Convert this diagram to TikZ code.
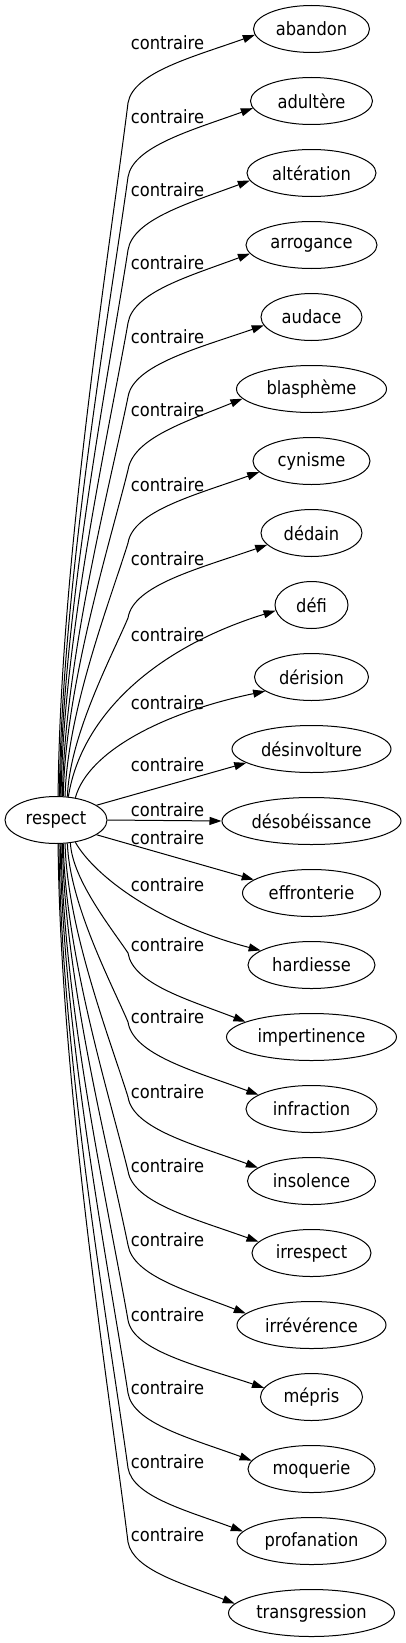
\documentclass[tikz,border=0pt]{standalone}
\usepackage{fontspec}
\setmainfont{DejaVu Sans}[FakeStretch=0.89]
\usetikzlibrary{shapes.geometric,arrows.meta}
\tikzset{
  word/.style={draw=black, line width=1pt, ellipse, inner sep=0pt, minimum height=47pt, text=black},
  rel/.style={text=black, inner sep=0pt},
  edge/.style={draw=black, line width=1pt, -{Triangle[length=12pt,width=8pt]}},
}
\begin{document}
\begin{tikzpicture}[x=1pt, y=-1pt, font=\fontsize{18.3pt}{20pt}\selectfont]
\useasboundingbox (0,0) rectangle (406,1643);
% central node
\node[word, minimum width=102pt] (respect) at (56,820) {respect};
% targets
\node[word, minimum width=116pt] (n0) at (311.5,29) {abandon};
\node[word, minimum width=122pt] (n1) at (311.5,101) {adultère};
\node[word, minimum width=129pt] (n2) at (311.5,173) {altération};
\node[word, minimum width=131pt] (n3) at (311.5,245) {arrogance};
\node[word, minimum width=101pt] (n4) at (311.5,317) {audace};
\node[word, minimum width=150pt] (n5) at (311.5,389) {blasphème};
\node[word, minimum width=117pt] (n6) at (311.5,461) {cynisme};
\node[word, minimum width=101pt] (n7) at (311.5,533) {dédain};
\node[word, minimum width=73pt] (n8) at (311.5,605) {défi};
\node[word, minimum width=114pt] (n9) at (311.5,677) {dérision};
\node[word, minimum width=159pt] (n10) at (311.5,749) {désinvolture};
\node[word, minimum width=179pt] (n11) at (311.5,821) {désobéissance};
\node[word, minimum width=138pt] (n12) at (311.5,893) {effronterie};
\node[word, minimum width=127pt] (n13) at (311.5,965) {hardiesse};
\node[word, minimum width=170pt] (n14) at (311.5,1037) {impertinence};
\node[word, minimum width=131pt] (n15) at (311.5,1109) {infraction};
\node[word, minimum width=128pt] (n16) at (311.5,1181) {insolence};
\node[word, minimum width=119pt] (n17) at (311.5,1253) {irrespect};
\node[word, minimum width=149pt] (n18) at (311.5,1325) {irrévérence};
\node[word, minimum width=102pt] (n19) at (311.5,1397) {mépris};
\node[word, minimum width=127pt] (n20) at (311.5,1469) {moquerie};
\node[word, minimum width=149pt] (n21) at (311.5,1541) {profanation};
\node[word, minimum width=166pt] (n22) at (311.5,1613) {transgression};
% labels
\node[rel] (l0) at (167.5,43) {contraire};
\node[rel] (l1) at (167.5,117) {contraire};
\node[rel] (l2) at (167.5,190) {contraire};
\node[rel] (l3) at (167.5,263) {contraire};
\node[rel] (l4) at (167.5,337) {contraire};
\node[rel] (l5) at (167.5,410) {contraire};
\node[rel] (l6) at (167.5,485) {contraire};
\node[rel] (l7) at (167.5,559) {contraire};
\node[rel] (l8) at (167.5,635) {contraire};
\node[rel] (l9) at (167.5,703) {contraire};
\node[rel] (l10) at (167.5,765) {contraire};
\node[rel] (l11) at (167.5,810) {contraire};
\node[rel] (l12) at (167.5,838) {contraire};
\node[rel] (l13) at (167.5,885) {contraire};
\node[rel] (l14) at (167.5,945) {contraire};
\node[rel] (l15) at (167.5,1017) {contraire};
\node[rel] (l16) at (167.5,1092) {contraire};
\node[rel] (l17) at (167.5,1166) {contraire};
\node[rel] (l18) at (167.5,1240) {contraire};
\node[rel] (l19) at (167.5,1315) {contraire};
\node[rel] (l20) at (167.5,1388) {contraire};
\node[rel] (l21) at (167.5,1462) {contraire};
\node[rel] (l22) at (167.5,1535) {contraire};
% bend points
\coordinate (b0) at (128,103);
\coordinate (b1) at (128,177);
\coordinate (b2) at (128,250);
\coordinate (b3) at (128,323);
\coordinate (b4) at (128,397);
\coordinate (b5) at (128,470);
\coordinate (b6) at (128,543);
\coordinate (b7) at (128,618);
\coordinate (b14) at (128,953);
\coordinate (b15) at (128,1022);
\coordinate (b16) at (128,1097);
\coordinate (b17) at (128,1171);
\coordinate (b18) at (128,1245);
\coordinate (b19) at (128,1320);
\coordinate (b20) at (128,1393);
\coordinate (b21) at (128,1468);
\coordinate (b22) at (128,1542);
% upper edges
\draw[edge] (respect.85) .. controls +(2,-236) and +(-18.2,145.7) .. (b0) .. controls +(5,-30.6) and +(-61.2,21.8) .. (n0.186.1);
\draw[edge] (respect.82.7) .. controls +(2,-210.8) and +(-17.9,130.2) .. (b1) .. controls +(5,-30.6) and +(-60.5,21.8) .. (n1.187.9);
\draw[edge] (respect.80.3) .. controls +(2,-186) and +(-17.7,114.9) .. (b2) .. controls +(5,-31) and +(-59,22) .. (n2.187.5);
\draw[edge] (respect.78) .. controls +(2,-161) and +(-17.4,99.5) .. (b3) .. controls +(5,-31) and +(-59,22) .. (n3.188.5);
\draw[edge] (respect.75.5) .. controls +(2,-136) and +(-17.2,84) .. (b4) .. controls +(5,-32) and +(-65.7,22.7) .. (n4.190.9);
\draw[edge] (respect.73) .. controls +(2,-111) and +(-16.9,68.7) .. (b5) .. controls +(5,-32) and +(-55.5,22.7) .. (n5.188.4);
\draw[edge] (respect.69) .. controls +(2,-86) and +(-16.4,53.3) .. (b6) .. controls +(5,-32) and +(-63.3,22.7) .. (n6.192);
\draw[edge] (respect.64) .. controls +(2,-61) and +(-15.9,37.6) .. (b7) .. controls +(5,-33) and +(-67.2,23.4) .. (n7.195.5);
\draw[edge] (respect.62.7) .. controls +(12,-77) and +(-126,39) .. (n8.189.6);
\draw[edge] (respect.49) .. controls +(13,-47) and +(-100.5,21) .. (n9.197);
% middle edges
\draw[edge] (respect.20) -- (n10.192.4);
\draw[edge] (respect.east) -- (n11.west);
\draw[edge] (respect.-20) -- (n12.167.3);
\draw[edge] (respect.-49) .. controls +(20,35) and +(-100.5,-26) .. (n13.164.6);
% lower edges
\draw[edge] (respect.-58) .. controls +(2,37) and +(-15.1,-22.9) .. (b14) .. controls +(5,31) and +(-56.7,-22) .. (n14.167.1);
\draw[edge] (respect.-64) .. controls +(2,60.5) and +(-15.9,-37.4) .. (b15) .. controls +(5,32.9) and +(-62.8,-23.4) .. (n15.165.1);
\draw[edge] (respect.-69) .. controls +(2,86) and +(-16.4,-53.1) .. (b16) .. controls +(5,32) and +(-62.5,-22.7) .. (n16.166.3);
\draw[edge] (respect.-73) .. controls +(2,111) and +(-16.9,-68.7) .. (b17) .. controls +(5,32) and +(-62.8,-22.7) .. (n17.168.2);
\draw[edge] (respect.-75.5) .. controls +(2,136) and +(-17.2,-84.2) .. (b18) .. controls +(5,31) and +(-56.4,-22) .. (n18.170.5);
\draw[edge] (respect.-78) .. controls +(2,162) and +(-17.4,-100) .. (b19) .. controls +(5,30.6) and +(-65.5,-21.8) .. (n19.169.2);
\draw[edge] (respect.-80) .. controls +(2,187) and +(-17.7,-115) .. (b20) .. controls +(5,30.6) and +(-59.4,-21.8) .. (n20.172.4);
\draw[edge] (respect.-83) .. controls +(2,212) and +(-17.9,-131) .. (b21) .. controls +(5,28.8) and +(-55,-20.5) .. (n21.172.5);
\draw[edge] (respect.-85) .. controls +(2,237) and +(-18.2,-146.6) .. (b22) .. controls +(5,28) and +(-51.3,-19.8) .. (n22.173.3);
\end{tikzpicture}
\end{document}
